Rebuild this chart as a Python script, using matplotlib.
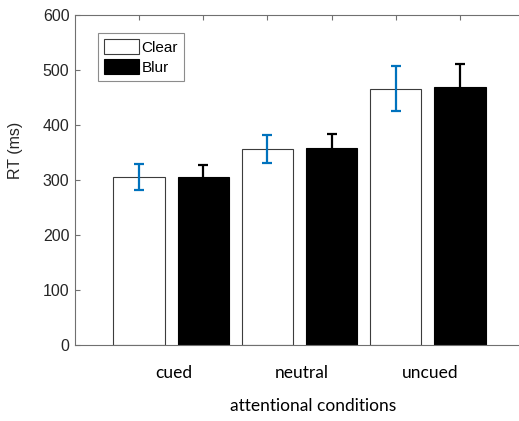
import matplotlib
matplotlib.use("Agg")
import matplotlib.pyplot as plt
from matplotlib.patches import Patch
import numpy as np

# data
conditions = ['cued', 'neutral', 'uncued']
series = ['Clear', 'Blur']
clear_rt = [305, 356, 466]
clear_err = [24, 25, 41]
blur_rt = [305, 358, 469]
blur_err = [23, 25, 42]
yticks = [0, 100, 200, 300, 400, 500, 600]

blue = '#0072BD'
axis_col = '#707070'
text_col = '#262626'

plt.rcParams['font.family'] = ['Liberation Sans', 'DejaVu Sans']

fig = plt.figure(figsize=(5.19, 4.21), dpi=100)
ax = fig.add_axes([75 / 519, 76 / 421, 449 / 519, 330 / 421])

n = len(conditions)
x_clear = np.arange(n) * 2 + 1
x_blur = x_clear + 1

ax.bar(x_clear, clear_rt, width=0.8, color='white', edgecolor='#3c3c3c', linewidth=0.8, zorder=2)
ax.bar(x_blur, blur_rt, width=0.8, color='black', edgecolor='black', linewidth=0.8, zorder=2)
ax.errorbar(x_clear, clear_rt, yerr=clear_err, fmt='none', ecolor=blue, elinewidth=1.6,
            capsize=3.6, capthick=1.6, zorder=3)
ax.errorbar(x_blur, blur_rt, yerr=blur_err, fmt='none', ecolor='black', elinewidth=1.6,
            capsize=3.6, capthick=1.6, zorder=3)

ax.set_xlim(0, 7)
ax.set_ylim(0, 600)
ax.set_yticks(yticks)
ax.set_xticks(np.arange(1, 2 * n + 1))
ax.set_xticklabels([])
ax.tick_params(axis='both', direction='in', length=3.6, width=0.8, color=axis_col,
               top=True, right=False, labelsize=11.5, labelcolor=text_col, pad=4)
for sp in ax.spines.values():
    sp.set_color(axis_col)
    sp.set_linewidth(0.8)
# the figure is cut off before the right edge of the axes
ax.spines['right'].set_visible(False)

ax.set_ylabel('RT (ms)', fontsize=11.5, color=text_col)
ax.yaxis.set_label_coords(-0.116, 0.59)

# group labels under the axis
for i, name in enumerate(conditions):
    ax.text((x_clear[i] + x_blur[i]) / 2 + 0.04, -0.085, name, transform=ax.get_xaxis_transform(),
            ha='center', va='center', fontsize=12.5, family='Lato', color='black')
fig.text(313 / 519, 1 - 406 / 421, 'attentional conditions', ha='center', va='center',
         fontsize=12.5, family='Lato', color='black')

handles = [Patch(facecolor='white', edgecolor='#3c3c3c', linewidth=0.8),
           Patch(facecolor='black', edgecolor='black', linewidth=0.8)]
leg = ax.legend(handles, series, loc='upper left', bbox_to_anchor=(23 / 449, 312 / 330),
                borderaxespad=0, fancybox=False, fontsize=11, handlelength=2.3, handleheight=1.1,
                handletextpad=0.15, labelspacing=0.3, borderpad=0.4, frameon=True)
leg.get_frame().set_edgecolor(axis_col)
leg.get_frame().set_linewidth(0.8)

fig.savefig('out.png', dpi=100)
